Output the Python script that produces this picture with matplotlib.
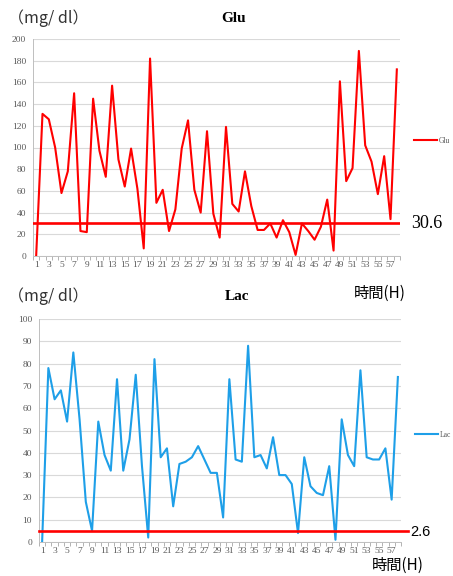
import numpy as np
import matplotlib.pyplot as plt
from matplotlib.ticker import MultipleLocator

plt.rcParams['font.family'] = ['Liberation Serif', 'DejaVu Sans']

hours = np.arange(1, 59)
glu = [0, 131, 126, 100, 58, 78, 150, 23, 22, 145,
       97, 73, 157, 89, 64, 99, 62, 7, 182, 49,
       61, 23, 43, 99, 125, 61, 40, 115, 39, 17,
       119, 48, 41, 78, 46, 24, 24, 30, 17, 33,
       22, 1, 30, 23, 15, 27, 52, 5, 161, 69,
       81, 189, 102, 87, 57, 92, 34, 172]
lac = [0, 78, 64, 68, 54, 85, 55, 18, 5, 54,
       39, 32, 73, 32, 46, 75, 34, 2, 82, 38,
       42, 16, 35, 36, 38, 43, 37, 31, 31, 11,
       73, 37, 36, 88, 38, 39, 33, 47, 30, 30,
       26, 4, 38, 25, 22, 21, 34, 1, 55, 39,
       34, 77, 38, 37, 37, 42, 19, 74]
glu_ref = 30.6
lac_ref = 4.8          # drawn near 5 in the source chart
glu_ref_label = "30.6"
lac_ref_label = "2.6"

W, H = 453, 576
fig = plt.figure(figsize=(W / 100, H / 100), dpi=100)


def px(x, y):
    return x / W, 1 - y / H


def setup(ax, ymax, ystep):
    ax.set_xlim(0.5, 58.5)
    ax.set_ylim(0, ymax)
    ax.yaxis.set_major_locator(MultipleLocator(ystep))
    ax.set_xticks(np.arange(1, 59, 2))
    ax.xaxis.set_minor_locator(plt.FixedLocator(np.arange(0.5, 59, 1)))
    ax.tick_params(axis='x', which='major', length=0, pad=3.5,
                   labelsize=6.8, labelcolor='#595959')
    ax.tick_params(axis='x', which='minor', length=3, color='#A6A6A6', width=0.6)
    ax.tick_params(axis='y', length=0, pad=5, labelsize=6.8, labelcolor='#595959')
    ax.grid(axis='y', color='#D9D9D9', lw=0.8)
    ax.set_axisbelow(True)
    for s in ['top', 'right']:
        ax.spines[s].set_visible(False)
    for s in ['left', 'bottom']:
        ax.spines[s].set_color('#BFBFBF')
        ax.spines[s].set_linewidth(0.7)


# top: Glu
l, b = px(33, 256)
r, t = px(400, 39)
ax1 = fig.add_axes([l, b, r - l, t - b])
setup(ax1, 200, 20)
ax1.plot(hours, glu, color='#FF0000', lw=1.5, label='Glu', zorder=3)
ax1.axhline(glu_ref, color='#FF0000', lw=1.9, zorder=4)
ax1.legend(loc='center left', bbox_to_anchor=(1.02, 0.53), frameon=False,
           fontsize=5.5, handlelength=3, handletextpad=0.2, labelcolor='#595959')

# bottom: Lac
l, b = px(39, 542)
r, t = px(401, 319)
ax2 = fig.add_axes([l, b, r - l, t - b])
setup(ax2, 100, 10)
ax2.plot(hours, lac, color='#1E9FE8', lw=1.5, label='Lac', zorder=3)
ax2.axhline(lac_ref, xmin=0, xmax=1.02, color='#FF0000', lw=1.9, zorder=4,
            clip_on=False)
ax2.legend(loc='center left', bbox_to_anchor=(1.02, 0.48), frameon=False,
           fontsize=5.5, handlelength=3, handletextpad=0.2, labelcolor='#595959')

cjk = ['Noto Sans CJK JP', 'DejaVu Sans']

fig.text(*px(8, 18), "（mg/ dl）", family=cjk, fontsize=11.5, va='center', ha='left',
         color='#333333')
fig.text(*px(8, 296), "（mg/ dl）", family=cjk, fontsize=11.5, va='center', ha='left',
         color='#333333')
fig.text(*px(234, 18), "Glu", fontsize=11, fontweight='bold', ha='center', va='center')
fig.text(*px(237, 297), "Lac", fontsize=11, fontweight='bold', ha='center', va='center')
fig.text(*px(411, 223), glu_ref_label, fontsize=13, ha='left', va='center')
fig.text(*px(410, 532), lac_ref_label, family=['Liberation Sans'], fontsize=10.5,
         ha='left', va='center')
fig.text(*px(354, 293), "時間(H)", family=cjk, fontsize=11, ha='left', va='center')
fig.text(*px(372, 565), "時間(H)", family=cjk, fontsize=11, ha='left', va='center')

fig.savefig('out.png', dpi=100)
